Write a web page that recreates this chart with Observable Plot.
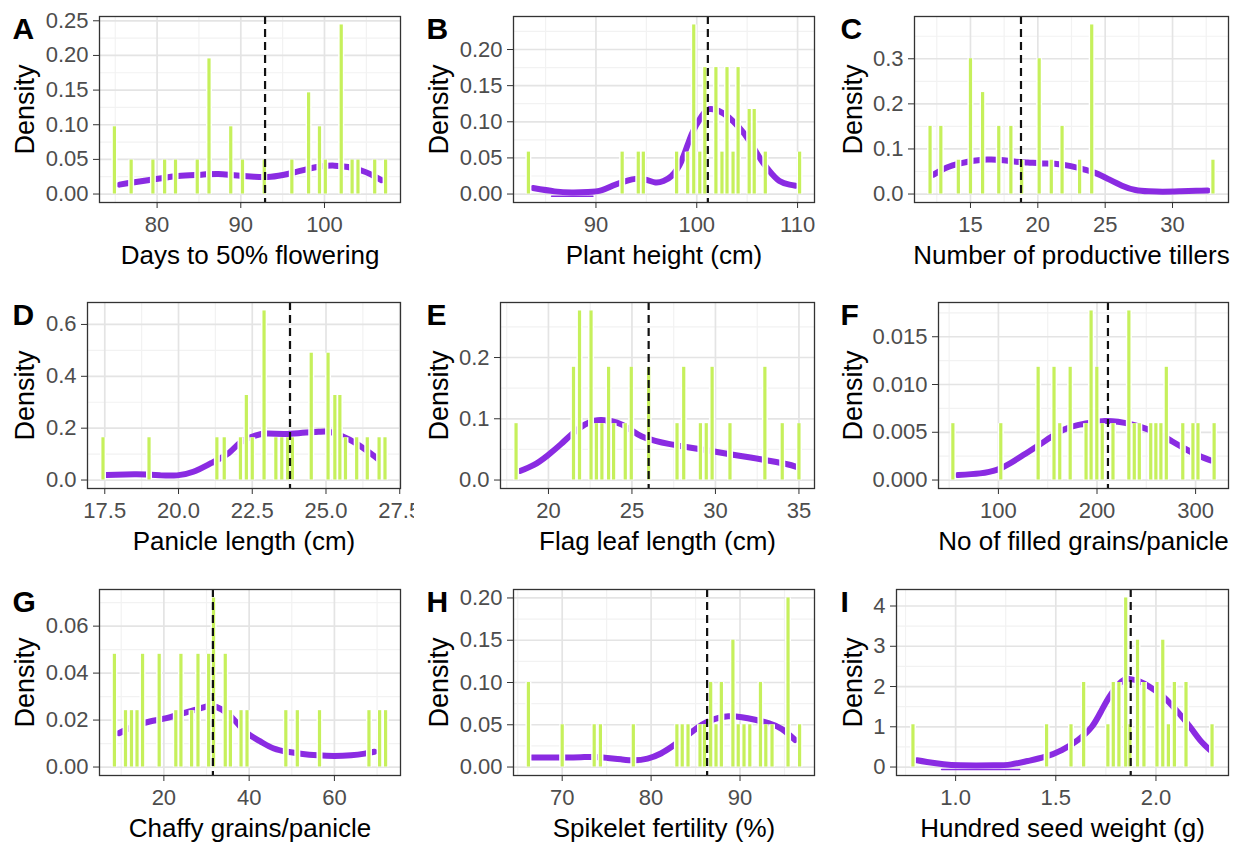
<!DOCTYPE html>
<html>
<head>
<meta charset="utf-8">
<script src="https://cdn.jsdelivr.net/npm/d3@7"></script>
<script src="https://cdn.jsdelivr.net/npm/@observablehq/plot@0.6"></script>
<style>
  html, body { margin: 0; padding: 0; background: #fff; }
  #wrap { position: relative; width: 1242px; height: 846px; background: #fff; overflow: hidden; }
  #wrap > div { position: absolute; }
</style>
</head>
<body>
<div id="wrap"></div>
<script>
// ---------------- Panel A: Days to 50% flowering ----------------
const aLabel = "Days to 50% flowering";
const aBarX = [74.9, 76.9, 79.5, 80.9, 82.2, 84.8, 86.2, 88.8, 90.2, 92.8, 96.1, 98.1, 99.4, 100.1, 102.0, 103.3, 104.0, 106.0, 107.3];
const aBarD = [0.097, 0.049, 0.049, 0.049, 0.049, 0.049, 0.195, 0.097, 0.049, 0.049, 0.049, 0.146, 0.097, 0.049, 0.244, 0.049, 0.049, 0.049, 0.049];
const aDensX = [75.5, 77.3, 80.1, 82.5, 85.3, 87.3, 89.2, 91.6, 93.6, 95.6, 98.0, 99.6, 101.2, 102.8, 104.4, 105.6, 106.8];
const aDensY = [0.0136, 0.017, 0.022, 0.026, 0.028, 0.029, 0.027, 0.025, 0.025, 0.029, 0.036, 0.040, 0.041, 0.039, 0.034, 0.028, 0.020];
const aMean = 92.9;
const aXTicks = [80, 90, 100];
const aYTicks = [0, 0.05, 0.10, 0.15, 0.20, 0.25];

// ---------------- Panel B: Plant height ----------------
const bLabel = "Plant height (cm)";
const bBarX = [83.3, 92.6, 94.2, 94.7, 98.0, 99.1, 99.7, 100.3, 100.8, 101.9, 102.5, 103.0, 103.6, 104.1, 105.2, 105.7, 106.8, 110.2];
const bBarD = [0.058, 0.058, 0.058, 0.058, 0.058, 0.058, 0.234, 0.058, 0.175, 0.175, 0.058, 0.175, 0.058, 0.175, 0.117, 0.117, 0.058, 0.058];
const bDensX = [83.75, 85.9, 87.6, 89.2, 90.6, 91.9, 93.2, 93.9, 94.9, 95.9, 96.7, 97.5, 98.5, 99.5, 100.5, 101.2, 102.2, 103.2, 104.2, 105.2, 106.2, 107.2, 108.2, 109.2, 109.8];
const bDensY = [0.0083, 0.0037, 0.0023, 0.0028, 0.0055, 0.0129, 0.019, 0.021, 0.020, 0.016, 0.018, 0.025, 0.046, 0.083, 0.108, 0.1175, 0.115, 0.106, 0.092, 0.074, 0.051, 0.032, 0.018, 0.013, 0.0115];
const bLowX = [85.6, 89.7];
const bLowY = [-0.003, -0.003];
const bMean = 101.1;
const bXTicks = [90, 100, 110];
const bYTicks = [0, 0.05, 0.10, 0.15, 0.20];

// ---------------- Panel C: Number of productive tillers ----------------
const cLabel = "Number of productive tillers";
const cBarX = [12.0, 12.8, 14.1, 15.0, 15.9, 17.1, 18.0, 18.8, 20.1, 21.0, 21.8, 23.1, 24.0, 33.0];
const cBarD = [0.15, 0.15, 0.075, 0.3, 0.225, 0.15, 0.15, 0.075, 0.3, 0.075, 0.15, 0.075, 0.375, 0.075];
const cDensX = [12.25, 13.25, 14.25, 15.25, 16.25, 17.25, 18.25, 19.25, 20.25, 21.25, 22.25, 23.25, 24.25, 25.25, 26.25, 27.25, 28.25, 29.25, 30.5, 31.75, 32.6];
const cDensY = [0.043, 0.059, 0.068, 0.074, 0.0765, 0.0757, 0.072, 0.070, 0.068, 0.067, 0.063, 0.056, 0.047, 0.033, 0.0186, 0.0089, 0.006, 0.0052, 0.006, 0.0074, 0.008];
const cMean = 18.75;
const cXTicks = [15, 20, 25, 30];
const cYTicks = [0, 0.1, 0.2, 0.3];

// ---------------- Panel D: Panicle length ----------------
const dLabel = "Panicle length (cm)";
const dBarX = [17.44, 19.0, 21.3, 21.55, 22.1, 22.3, 22.5, 22.9, 23.3, 23.5, 23.7, 23.86, 24.5, 25.07, 25.3, 25.47, 25.66, 26.04, 26.4, 26.8, 27.0];
const dBarD = [0.163, 0.163, 0.163, 0.163, 0.163, 0.326, 0.163, 0.652, 0.163, 0.163, 0.163, 0.163, 0.489, 0.489, 0.326, 0.326, 0.163, 0.163, 0.163, 0.163, 0.163];
const dDensX = [17.56, 18.5, 18.9, 19.4, 19.95, 20.5, 21.1, 21.7, 22.1, 22.6, 23.0, 23.6, 24.2, 24.75, 25.1, 25.55, 26.0, 26.5, 26.8];
const dDensY = [0.0195, 0.022, 0.021, 0.018, 0.018, 0.032, 0.065, 0.104, 0.145, 0.171, 0.179, 0.178, 0.182, 0.186, 0.186, 0.169, 0.143, 0.104, 0.078];
const dMean = 23.78;
const dXTicks = [17.5, 20.0, 22.5, 25.0, 27.5];
const dYTicks = [0, 0.2, 0.4, 0.6];

// ---------------- Panel E: Flag leaf length ----------------
const eLabel = "Flag leaf length (cm)";
const eBarX = [18.06, 21.5, 21.86, 22.55, 22.87, 23.2, 23.6, 23.9, 24.6, 24.96, 26.0, 27.7, 28.1, 29.1, 29.45, 29.8, 30.87, 32.96, 34.0, 35.0];
const eBarD = [0.092, 0.184, 0.276, 0.276, 0.092, 0.092, 0.184, 0.092, 0.092, 0.184, 0.184, 0.092, 0.184, 0.092, 0.092, 0.184, 0.092, 0.184, 0.092, 0.092];
const eDensX = [18.3, 19.13, 19.94, 20.75, 21.36, 22.17, 22.77, 23.18, 23.79, 24.4, 25.0, 25.6, 26.4, 27.2, 28.44, 29.66, 30.87, 32.1, 33.3, 34.3, 34.8];
const eDensY = [0.0148, 0.0247, 0.04, 0.0586, 0.074, 0.0904, 0.097, 0.098, 0.096, 0.0904, 0.0805, 0.071, 0.064, 0.059, 0.053, 0.0477, 0.042, 0.0367, 0.031, 0.0258, 0.022];
const eMean = 26.0;
const eXTicks = [20, 25, 30, 35];
const eYTicks = [0, 0.1, 0.2];

// ---------------- Panel F: No of filled grains/panicle ----------------
const fLabel = "No of filled grains/panicle";
const fBarX = [53.8, 102.4, 140.3, 156.4, 162.2, 172.8, 188.9, 194.0, 199.8, 205.3, 216.2, 232.3, 237.8, 242.9, 254.5, 259.7, 264.8, 270.3, 287.0, 297.3, 302.4, 318.8];
const fBarD = [0.0059, 0.0059, 0.0118, 0.0118, 0.0059, 0.0118, 0.0059, 0.0177, 0.0118, 0.0059, 0.0059, 0.0177, 0.0059, 0.0059, 0.0059, 0.0059, 0.0059, 0.0118, 0.0059, 0.0059, 0.0059, 0.0059];
const fDensX = [59, 81.2, 98.3, 112, 125.6, 139.3, 153, 166.7, 180.3, 194, 207.7, 221.4, 235, 248.7, 262.4, 276, 289.7, 303.4, 315.4];
const fDensY = [0.00053, 0.0007, 0.00106, 0.00176, 0.00265, 0.00353, 0.00448, 0.0053, 0.00575, 0.006, 0.00618, 0.0061, 0.00582, 0.0054, 0.00484, 0.00406, 0.00325, 0.00254, 0.00205];
const fMean = 211.1;
const fXTicks = [100, 200, 300];
const fYTicks = [0, 0.005, 0.010, 0.015];

// ---------------- Panel G: Chaffy grains/panicle ----------------
const gLabel = "Chaffy grains/panicle";
const gBarX = [8.4, 11.0, 12.4, 13.7, 15.0, 18.9, 22.8, 24.0, 26.5, 28.0, 30.5, 31.65, 34.4, 35.6, 38.1, 39.5, 48.6, 51.3, 56.5, 68.1, 70.6, 72.0];
const gBarD = [0.048, 0.024, 0.024, 0.024, 0.048, 0.048, 0.024, 0.048, 0.024, 0.048, 0.048, 0.072, 0.048, 0.024, 0.024, 0.024, 0.024, 0.024, 0.024, 0.024, 0.024, 0.024];
const gDensX = [9.45, 12.8, 16.7, 20.6, 24.6, 28.5, 30.5, 32.4, 34.8, 37.2, 39.5, 42.7, 45.8, 49.0, 52.1, 56.1, 60.0, 63.9, 67.1, 69.4];
const gDensY = [0.0144, 0.0172, 0.0194, 0.0208, 0.023, 0.025, 0.026, 0.0255, 0.023, 0.0187, 0.0144, 0.0108, 0.0079, 0.0065, 0.0057, 0.005, 0.0047, 0.005, 0.0057, 0.0065];
const gMean = 31.5;
const gXTicks = [20, 40, 60];
const gYTicks = [0, 0.02, 0.04, 0.06];

// ---------------- Panel H: Spikelet fertility ----------------
const hLabel = "Spikelet fertility (%)";
const hBarX = [66.2, 70.0, 73.6, 74.3, 78.0, 82.9, 83.5, 84.15, 85.5, 86.0, 86.7, 87.3, 87.9, 89.2, 89.8, 90.45, 91.1, 92.3, 92.9, 93.6, 95.4, 96.7];
const hBarD = [0.1, 0.05, 0.05, 0.05, 0.05, 0.05, 0.05, 0.05, 0.05, 0.05, 0.1, 0.05, 0.1, 0.15, 0.05, 0.05, 0.05, 0.1, 0.05, 0.05, 0.2, 0.05];
const hDensX = [66.6, 68.3, 70.2, 72.1, 73.6, 75.1, 76.6, 78.1, 79.6, 81.1, 82.6, 84.15, 85.7, 87.2, 88.7, 90.2, 91.7, 93.2, 94.7, 96.2];
const hDensY = [0.0112, 0.0112, 0.0112, 0.0116, 0.012, 0.0108, 0.0092, 0.008, 0.010, 0.016, 0.026, 0.038, 0.05, 0.057, 0.06, 0.059, 0.056, 0.052, 0.045, 0.032];
const hMean = 86.3;
const hXTicks = [70, 80, 90];
const hYTicks = [0, 0.05, 0.10, 0.15, 0.20];

// ---------------- Panel I: Hundred seed weight ----------------
const iLabel = "Hundred seed weight (g)";
const iBarX = [0.787, 1.454, 1.576, 1.639, 1.76, 1.787, 1.815, 1.849, 1.87, 1.908, 1.94, 2.005, 2.034, 2.062, 2.092, 2.15, 2.28];
const iBarD = [1.05, 1.05, 1.05, 2.1, 1.05, 2.1, 2.1, 4.2, 1.05, 3.15, 2.1, 2.1, 3.15, 1.05, 2.1, 2.1, 1.05];
const iDensX = [0.807, 0.857, 0.94, 1.025, 1.19, 1.277, 1.36, 1.445, 1.53, 1.61, 1.68, 1.73, 1.78, 1.83, 1.866, 1.916, 1.966, 2.034, 2.10, 2.17, 2.22, 2.27];
const iDensY = [0.167, 0.126, 0.067, 0.042, 0.042, 0.067, 0.15, 0.25, 0.42, 0.67, 1.0, 1.42, 1.84, 2.13, 2.19, 2.13, 2.0, 1.76, 1.42, 1.0, 0.67, 0.42];
const iLowX = [0.93, 1.32];
const iLowY = [-0.06, -0.06];
const iMean = 1.874;
const iXTicks = [1.0, 1.5, 2.0];
const iYTicks = [0, 1, 2, 3, 4];

const letters = ["A", "B", "C", "D", "E", "F", "G", "H", "I"];

// ---------------- build panels ----------------
const zip = (xs, ys) => xs.map((x, i) => ({x, y: ys[i]}));
const panels = [
  {label: aLabel, bx: aBarX, bd: aBarD, dx: aDensX, dy: aDensY, mean: aMean, xt: aXTicks, yt: aYTicks, xf: "d", yf: ".2f", ml: 99},
  {label: bLabel, bx: bBarX, bd: bBarD, dx: bDensX, dy: bDensY, mean: bMean, xt: bXTicks, yt: bYTicks, xf: "d", yf: ".2f", ml: 99, lx: bLowX, ly: bLowY},
  {label: cLabel, bx: cBarX, bd: cBarD, dx: cDensX, dy: cDensY, mean: cMean, xt: cXTicks, yt: cYTicks, xf: "d", yf: ".1f", ml: 86},
  {label: dLabel, bx: dBarX, bd: dBarD, dx: dDensX, dy: dDensY, mean: dMean, xt: dXTicks, yt: dYTicks, xf: ".1f", yf: ".1f", ml: 87},
  {label: eLabel, bx: eBarX, bd: eBarD, dx: eDensX, dy: eDensY, mean: eMean, xt: eXTicks, yt: eYTicks, xf: "d", yf: ".1f", ml: 86},
  {label: fLabel, bx: fBarX, bd: fBarD, dx: fDensX, dy: fDensY, mean: fMean, xt: fXTicks, yt: fYTicks, xf: "d", yf: ".3f", ml: 110},
  {label: gLabel, bx: gBarX, bd: gBarD, dx: gDensX, dy: gDensY, mean: gMean, xt: gXTicks, yt: gYTicks, xf: "d", yf: ".2f", ml: 99},
  {label: hLabel, bx: hBarX, bd: hBarD, dx: hDensX, dy: hDensY, mean: hMean, xt: hXTicks, yt: hYTicks, xf: "d", yf: ".2f", ml: 99},
  {label: iLabel, bx: iBarX, bd: iBarD, dx: iDensX, dy: iDensY, mean: iMean, xt: iXTicks, yt: iYTicks, xf: ".1f", yf: "d", ml: 68, lx: iLowX, ly: iLowY}
];

const FONT = "'Liberation Sans', Arial, Helvetica, sans-serif";
const rowTops = [0, 286, 573];
const W = 414, MT = 16, MB = 70, FH = 186;
const wrap = document.getElementById("wrap");

function minorTicks(ticks, dom) {
  const step = ticks[1] - ticks[0];
  const out = [];
  for (let v = ticks[0] - step / 2; v <= dom[1]; v += step) {
    if (v >= dom[0]) out.push(v);
  }
  return out;
}

panels.forEach((p, i) => {
  const col = i % 3, row = Math.floor(i / 3);
  const lo = d3.min(p.bx), hi = d3.max(p.bx), r = hi - lo;
  const xDom = [lo - 0.055 * r, hi + 0.055 * r];
  const ym = d3.max(p.bd);
  const yDom = [-0.05 * ym, 1.05 * ym];
  const bars = zip(p.bx, p.bd);
  const dens = zip(p.dx, p.dy);
  const xfmt = d3.format(p.xf), yfmt = d3.format(p.yf);

  const chart = Plot.plot({
    width: W,
    height: MT + FH + MB,
    marginLeft: p.ml,
    marginRight: 14,
    marginTop: MT,
    marginBottom: MB,
    x: {domain: xDom},
    y: {domain: yDom},
    style: {fontFamily: FONT, background: "white", overflow: "visible"},
    marks: [
      Plot.ruleX(minorTicks(p.xt, xDom), {stroke: "#f2f2f2", strokeWidth: 1.2}),
      Plot.ruleY(minorTicks(p.yt, yDom), {stroke: "#f2f2f2", strokeWidth: 1.2}),
      Plot.ruleX(p.xt, {stroke: "#e4e4e4", strokeWidth: 1.7}),
      Plot.ruleY(p.yt, {stroke: "#e4e4e4", strokeWidth: 1.7}),
      p.lx ? Plot.line(zip(p.lx, p.ly), {x: "x", y: "y", stroke: "#8a2be2", strokeWidth: 1.5}) : null,
      Plot.line(dens, {x: "x", y: "y", stroke: "#8a2be2", strokeWidth: 6, curve: "natural"}),
      Plot.ruleX(bars, {x: "x", y1: 0, y2: "y", stroke: "white", strokeWidth: 6}),
      Plot.ruleX(bars, {x: "x", y1: 0, y2: "y", stroke: "#c6f05c", strokeWidth: 3.2}),
      Plot.ruleX([p.mean], {stroke: "#111", strokeWidth: 2.2, strokeDasharray: "8,5"}),
      Plot.frame({stroke: "#333", strokeWidth: 1.3}),
      Plot.axisX(p.xt, {tickFormat: xfmt, tickSize: 6, tickPadding: 8, fontSize: 22, fill: "#4d4d4d", stroke: "#333", label: null}),
      Plot.axisY(p.yt, {tickFormat: yfmt, tickSize: 6, tickPadding: 5, fontSize: 22, fill: "#4d4d4d", stroke: "#333", label: null}),
      Plot.text([p.label], {text: d => d, frameAnchor: "bottom", dy: 53, lineAnchor: "middle", fontSize: 26, fill: "black"}),
      Plot.text(["Density"], {text: d => d, frameAnchor: "left", dx: 25 - p.ml, rotate: -90, lineAnchor: "middle", textAnchor: "middle", fontSize: 27, fill: "black"}),
      Plot.text([letters[i]], {text: d => d, frameAnchor: "top-left", dx: 12 - p.ml, dy: 1, lineAnchor: "top", textAnchor: "start", fontSize: 30, fontWeight: "bold", fill: "black"})
    ]
  });
  const box = document.createElement("div");
  box.style.left = (col * W) + "px";
  box.style.top = rowTops[row] + "px";
  box.appendChild(chart);
  wrap.appendChild(box);
});
</script>
</body>
</html>
